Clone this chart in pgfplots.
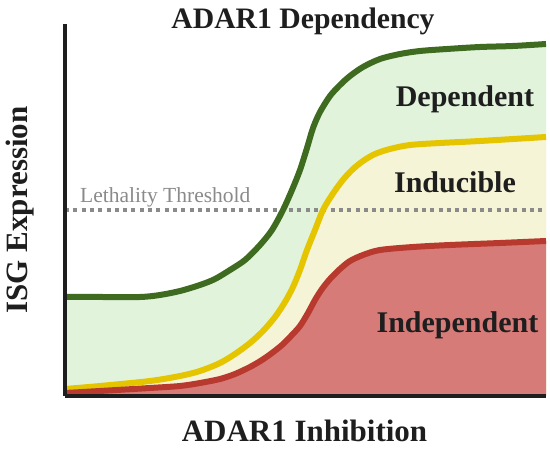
\documentclass[border=0pt]{standalone}
\usepackage{pgfplots}
\pgfplotsset{compat=1.18}
\usepackage{fontspec}
\setmainfont{Liberation Serif}
\definecolor{gline}{HTML}{3E6B1F}
\definecolor{gfill}{HTML}{E2F3DC}
\definecolor{yline}{HTML}{E5C400}
\definecolor{yfill}{HTML}{F6F4D6}
\definecolor{rline}{HTML}{B83A2E}
\definecolor{rfill}{HTML}{D77B79}
\definecolor{thr}{HTML}{8A8A8A}
\definecolor{axc}{HTML}{1E1E1E}
\pgfplotstableread{
x y
0 99
35 99
75 99
95 101
115 105
135 111
150 117
165 126
180 136
195 151
207 166
218 186
227 206
235 226
242 248
248 268
255 284
265 300
275 311
285 320
298 329
315 337
335 342
355 345
382 347
415 349
448 350
481 352
}\green
\pgfplotstableread{
x y
0 7
35 10
85 15
115 20
135 25
155 33
170 42
185 53
198 65
210 79
220 94
228 109
235 126
242 146
250 166
258 186
267 201
277 215
287 226
298 235
310 242
325 247
345 251
375 253
415 255
481 259
}\yellow
\pgfplotstableread{
x y
0 3
35 5
85 8
115 10
135 13
155 17
170 22
185 29
197 36
207 43
217 51
226 60
235 70
243 83
250 96
257 107
265 117
275 127
285 135
298 141
315 146
348 149
385 151
435 153
481 155
}\red
\begin{document}
\begin{tikzpicture}
\useasboundingbox (-65pt,-53pt) rectangle (485pt,396pt);
\begin{axis}[
  at={(0,0)}, anchor=south west,
  width=481pt, height=372pt, scale only axis,
  xmin=0, xmax=481, ymin=0, ymax=372,
  axis x line*=bottom, axis y line*=left,
  axis line style={-, line width=3.5pt, color=axc},
  xtick=\empty, ytick=\empty,
  axis on top,
]
\addplot[draw=none, fill=gfill, smooth] table {\green} \closedcycle;
\addplot[draw=none, fill=yfill, smooth] table {\yellow} \closedcycle;
\addplot[draw=none, fill=rfill, smooth] table {\red} \closedcycle;
\addplot[thr, line width=3.5pt, dash pattern=on 4pt off 4.3pt] coordinates {(0,186) (481,186)};
\addplot[gline, line width=6pt, smooth] table {\green};
\addplot[yline, line width=6pt, smooth] table {\yellow};
\addplot[rline, line width=6pt, smooth] table {\red};
\end{axis}
\node[anchor=base west, text=thr, font=\fontsize{21.5}{24}\selectfont, inner sep=0pt] at (15pt,193pt) {Lethality Threshold};
\node[anchor=base, font=\bfseries\fontsize{30}{34}\selectfont, inner sep=0pt, text=axc] at (400pt,289pt) {Dependent};
\node[anchor=base, font=\bfseries\fontsize{30}{34}\selectfont, inner sep=0pt, text=axc] at (390pt,203pt) {Inducible};
\node[anchor=base, font=\bfseries\fontsize{30}{34}\selectfont, inner sep=0pt, text=axc] at (392.5pt,63pt) {Independent};
\node[anchor=base, font=\bfseries\fontsize{29.7}{34}\selectfont, inner sep=0pt, text=axc] at (238pt,367pt) {ADAR1 Dependency};
\node[anchor=base, font=\bfseries\fontsize{31}{34}\selectfont, inner sep=0pt, text=axc] at (239.5pt,-46pt) {ADAR1 Inhibition};
\node[anchor=base, rotate=90, font=\bfseries\fontsize{31}{34}\selectfont, inner sep=0pt, text=axc] at (-37pt,186pt) {ISG Expression};
\end{tikzpicture}
\end{document}
